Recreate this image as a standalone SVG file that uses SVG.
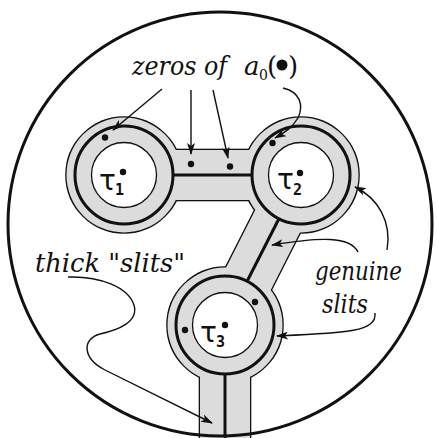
<svg xmlns="http://www.w3.org/2000/svg" width="437" height="438" viewBox="0 0 437 438">
<defs>
<style>
.lbl{font-family:'DejaVu Serif','Liberation Serif',serif;font-style:italic;font-size:26px;fill:#111}
.rm{font-family:'DejaVu Serif','Liberation Serif',serif;font-size:26px;fill:#111}
.tau{font-family:'DejaVu Sans',sans-serif;font-size:28px;fill:#111}
.sub{font-family:'DejaVu Sans Mono',monospace;font-size:15px;font-weight:bold;fill:#111}
.edge{fill:#dcdcdc;stroke:#111;stroke-width:2.6}
.fillg{fill:#dcdcdc;stroke:none}
.hole{fill:#fff;stroke:#111;stroke-width:1.3}
.ring{fill:none;stroke:#111;stroke-width:3}
.slit{stroke:#111;stroke-width:3;fill:none}
.arr{fill:none;stroke:#111;stroke-width:1.4;marker-end:url(#ah)}
.dot{fill:#111}
</style>
<marker id="ah" markerWidth="12" markerHeight="8" refX="11" refY="4" orient="auto" markerUnits="userSpaceOnUse">
<path d="M0,0 L12,4 L0,8 L3,4 z" fill="#111"/>
</marker>
</defs>
<rect width="437" height="438" fill="#fff"/>
<g id="domain">
<g id="outline">
<circle class="edge" cx="124" cy="175" r="57.5"/>
<circle class="edge" cx="301" cy="175" r="57.5"/>
<circle class="edge" cx="225" cy="325" r="57.5"/>
<rect class="edge" x="124" y="150" width="177" height="50"/>
<polygon class="edge" points="323.3,186.3 278.7,163.7 202.7,313.7 247.3,336.3"/>
<rect class="edge" x="200" y="325" width="50" height="120"/>
</g>
<g id="fill">
<circle class="fillg" cx="124" cy="175" r="57.5"/>
<circle class="fillg" cx="301" cy="175" r="57.5"/>
<circle class="fillg" cx="225" cy="325" r="57.5"/>
<rect class="fillg" x="124" y="150" width="177" height="50"/>
<polygon class="fillg" points="323.3,186.3 278.7,163.7 202.7,313.7 247.3,336.3"/>
<rect class="fillg" x="200" y="325" width="50" height="120"/>
</g>
</g>
<g id="tau1">
<circle class="hole" cx="124" cy="175" r="32.5"/>
<circle class="ring" cx="124" cy="175" r="49"/>
<text class="tau" x="99" y="190">τ</text>
<text class="sub" x="115" y="195">1</text>
<circle class="dot" cx="123" cy="172" r="3.2"/>
</g>
<g id="tau2">
<circle class="hole" cx="301" cy="175" r="32.5"/>
<circle class="ring" cx="301" cy="175" r="49"/>
<text class="tau" x="277" y="189">τ</text>
<text class="sub" x="293" y="195">2</text>
<circle class="dot" cx="300" cy="173" r="3.2"/>
</g>
<g id="tau3">
<circle class="hole" cx="225" cy="325" r="32.5"/>
<circle class="ring" cx="225" cy="325" r="49"/>
<text class="tau" x="200" y="342">τ</text>
<text class="sub" x="216" y="347">3</text>
<circle class="dot" cx="225" cy="325" r="3.2"/>
</g>
<g id="slits">
<line class="slit" x1="173" y1="175" x2="252" y2="175"/>
<line class="slit" x1="278.9" y1="218.7" x2="247.1" y2="281.3"/>
<line class="slit" x1="225" y1="374" x2="225" y2="440"/>
</g>
<g id="zeros">
<circle class="dot" cx="105" cy="137.5" r="3.2"/>
<circle class="dot" cx="191" cy="164" r="3.2"/>
<circle class="dot" cx="230" cy="166.5" r="3.2"/>
<circle class="dot" cx="272.5" cy="143" r="3.2"/>
<circle class="dot" cx="185" cy="330" r="3.2"/>
<circle class="dot" cx="255" cy="302" r="3.2"/>
</g>
<circle id="boundary" cx="220" cy="224" r="212" fill="none" stroke="#111" stroke-width="3"/>
<g id="connectors">
<path class="arr" d="M162,89 L113,130"/>
<path class="arr" d="M191,90 L191,154"/>
<path class="arr" d="M213,90 L228,158"/>
<path class="arr" d="M283,88 C300,92 304,105 298,118 C292,128 284,133 275,138"/>
<path class="arr" d="M387,250 C392,222 378,198 355,187"/>
<path class="arr" d="M358,252 C350,236 320,237 272,245"/>
<path class="arr" d="M375,313 C377,332 345,333 277,336"/>
<path class="arr" d="M68,277 C100,276 128,287 134,305 C139,322 118,330 100,334 C82,339 82,358 105,370 L212,423"/>
</g>
<g id="labels">
<text class="lbl" x="132" y="75" textLength="95" lengthAdjust="spacingAndGlyphs">zeros of</text>
<text class="lbl" x="244" y="75">a</text>
<text class="rm" x="259" y="80" style="font-size:14px">0</text>
<text class="rm" x="267" y="75">(</text>
<circle class="dot" cx="282" cy="65" r="5.5"/>
<text class="rm" x="288" y="75">)</text>
<text class="lbl" x="35" y="272" textLength="150" lengthAdjust="spacingAndGlyphs">thick "slits"</text>
<text class="lbl" x="315" y="280" textLength="87" lengthAdjust="spacingAndGlyphs">genuine</text>
<text class="lbl" x="322" y="313" textLength="46" lengthAdjust="spacingAndGlyphs">slits</text>
</g>
</svg>
